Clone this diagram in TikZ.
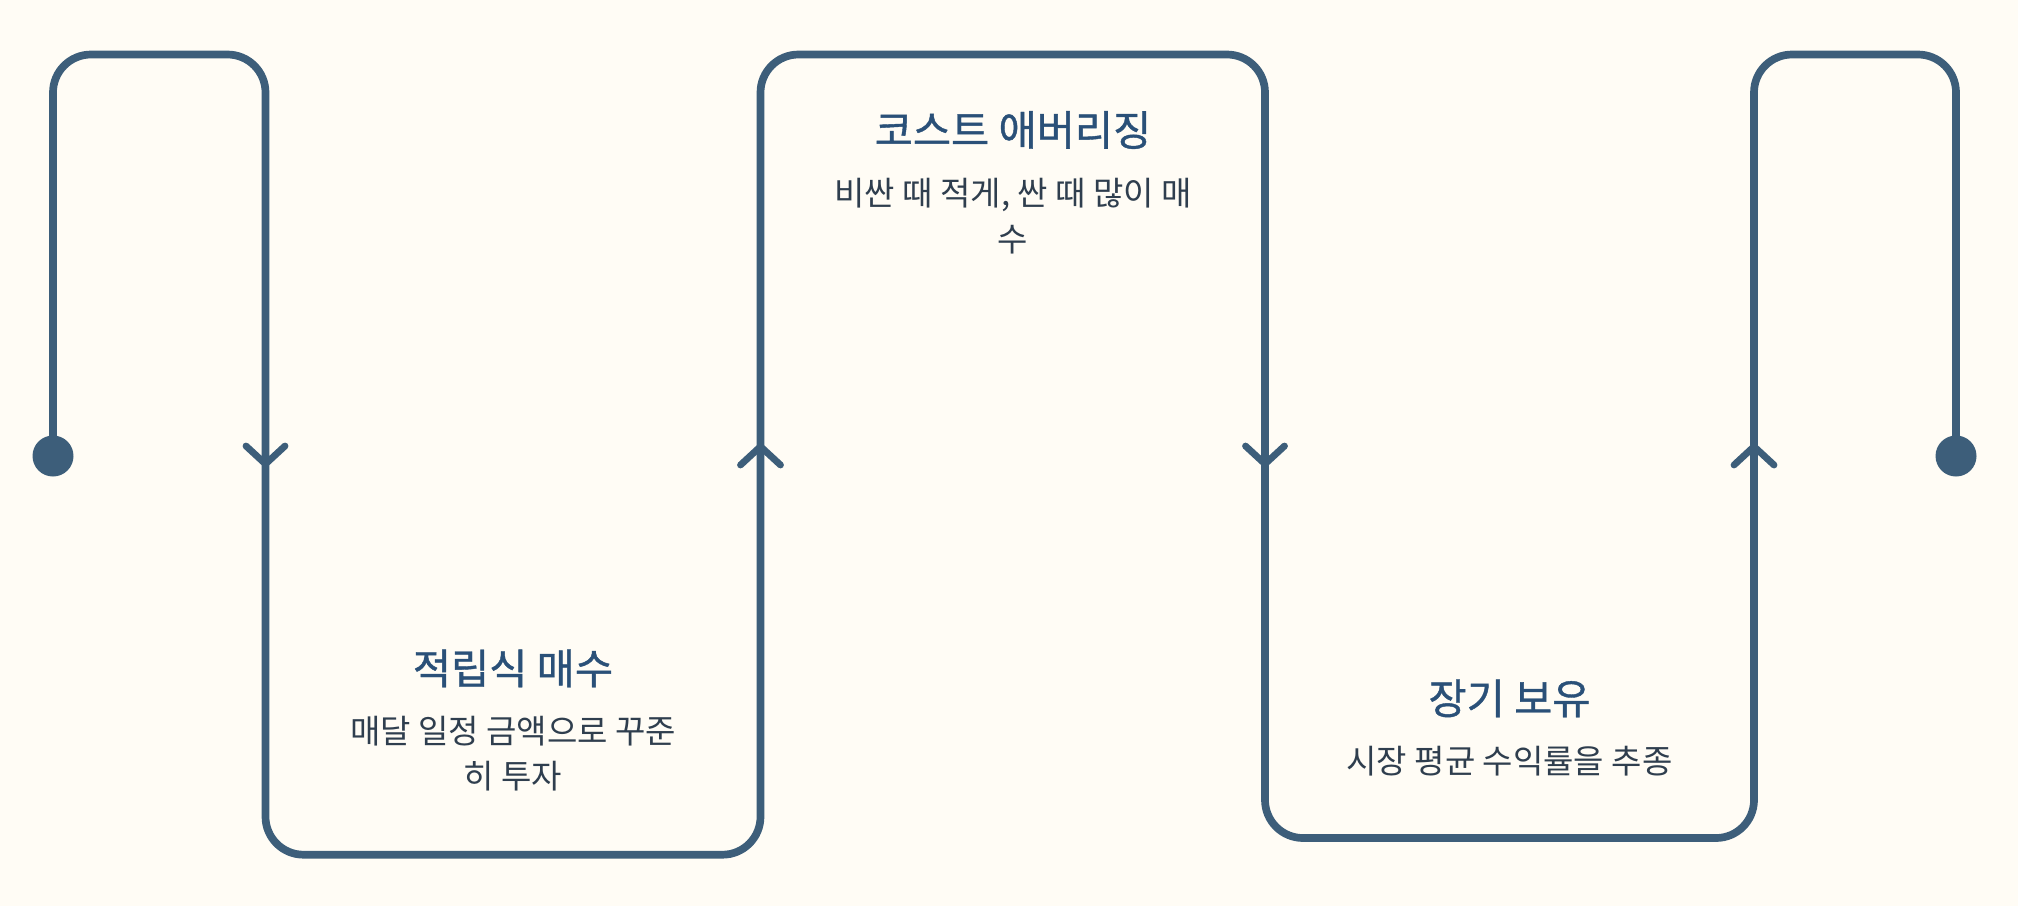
\documentclass[tikz,border=0pt]{standalone}
\usepackage{fontspec}
\newfontfamily\cjk{Noto Sans CJK KR}
\newfontfamily\cjkttl{Noto Sans CJK KR}[FakeBold=1.0]
\definecolor{bg}{HTML}{FFFCF5}
\definecolor{ln}{HTML}{3D5E7A}
\definecolor{ttl}{HTML}{2A5078}
\definecolor{txt}{HTML}{2F3E4E}
\tikzset{
  flow/.style={draw=ln, line width=7.7pt, rounded corners=38pt},
  chev/.style={draw=ln, line width=6.8pt, line cap=round, line join=round},
  dotend/.style={fill=ln},
  ttlnode/.style={inner sep=0pt, anchor=base, text=ttl, font=\cjkttl\fontsize{41.5}{48}\selectfont},
  txtnode/.style={inner sep=0pt, anchor=base, text=txt, font=\cjk\fontsize{33}{45}\selectfont}
}
\begin{document}
\begin{tikzpicture}[x=1pt,y=-1pt]
\fill[bg] (0,0) rectangle (2018,906);
\useasboundingbox (0,0) rectangle (2018,906);
\coordinate (s) at (53,456);
\coordinate (c1) at (53,54.5);
\coordinate (c2) at (265.5,54.5);
\coordinate (c3) at (265.5,854.7);
\coordinate (c4) at (760.5,854.7);
\coordinate (c5) at (760.5,54.5);
\coordinate (c6) at (1265,54.5);
\coordinate (c7) at (1265,838);
\coordinate (c8) at (1754,838);
\coordinate (c9) at (1754,54.5);
\coordinate (c10) at (1956,54.5);
\coordinate (e) at (1956,456);
\draw[flow] (s) -- (c1) -- (c2) -- (c3) -- (c4) -- (c5) -- (c6) -- (c7) -- (c8) -- (c9) -- (c10) -- (e);
\fill[dotend] (s) circle[radius=20.5pt];
\fill[dotend] (e) circle[radius=20.5pt];
% chevrons
\coordinate (a1) at (265.5,464);
\coordinate (a2) at (760.5,446.5);
\coordinate (a3) at (1265,464);
\coordinate (a4) at (1754,446.5);
\draw[chev] ([shift={(-19.5,-18)}]a1) -- (a1) -- ([shift={(19.5,-18)}]a1);
\draw[chev] ([shift={(-20,18.5)}]a2) -- (a2) -- ([shift={(20,18.5)}]a2);
\draw[chev] ([shift={(-19.5,-18)}]a3) -- (a3) -- ([shift={(19.5,-18)}]a3);
\draw[chev] ([shift={(-20,18.5)}]a4) -- (a4) -- ([shift={(20,18.5)}]a4);
% texts
\node[ttlnode] (t1) at (513,684) {적립식 매수};
\node[txtnode] (b1a) at (513,743.5) {매달 일정 금액으로 꾸준};
\node[txtnode] (b1b) at (513,788) {히 투자};
\node[ttlnode] (t2) at (1013,145.5) {코스트 애버리징};
\node[txtnode] (b2a) at (1013,205) {비싼 때 적게, 싼 때 많이 매};
\node[txtnode] (b2b) at (1013,251) {수};
\node[ttlnode] (t3) at (1509.5,714) {장기 보유};
\node[txtnode] (b3a) at (1509.5,773.5) {시장 평균 수익률을 추종};
\end{tikzpicture}
\end{document}
